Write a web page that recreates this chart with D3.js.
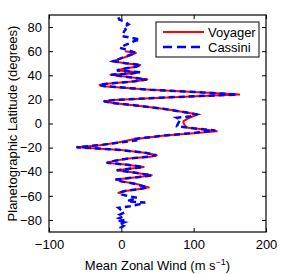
<!DOCTYPE html>
<html>
<head>
<meta charset="utf-8">
<script src="https://cdn.jsdelivr.net/npm/d3@7"></script>
<style>
body { margin: 0; background: #fff; }
text { font-family: "Liberation Sans", Arial, sans-serif; }
</style>
</head>
<body>
<div id="chartHolder"></div>
<script>
// latitude (deg) and wind (m/s)
const voyagerLat = [60, 58.5, 56, 54, 51.7, 50, 48.5, 47, 45, 44, 42.5, 41.5, 40.5, 38.5, 36.5, 35, 33, 32, 31, 28, 25.5, 24, 23, 21, 19.5, 18.5, 17, 15, 12, 9, 7.5, 5, 2, 0.5, -2, -3.6, -5, -6.5, -8, -10, -13, -16, -18, -19.6, -20.5, -22, -24.5, -26.3, -27.5, -29, -31, -32.6, -34, -36, -37, -38.7, -40, -43, -44, -46.5, -48, -50, -53, -54, -56, -57.5, -58];
const voyagerU   = [5, 20, 10, 0, -12, 5, 26, 20, 0, -5, 25, 15, -15, 10, 36, 20, -20, -30, -25, 40, 120, 163, 120, 40, -10, -24, -12, 20, 60, 92, 105, 95, 86, 86, 88, 92, 115, 132, 100, 60, 17, -6, -30, -61, -40, 0, 35, 49, 40, 10, -10, -20, 5, 31, 20, -6, 10, 42, 30, -7, 0, 20, 38, 30, 5, -4, 0];

const cassiniLat = [88, 86.3, 84, 82.2, 80, 78, 76.5, 74, 72.5, 71, 69.7, 68.5, 67, 65, 62.8, 61, 58.7, 56, 54, 51.7, 50, 48.5, 47, 45, 44, 42.5, 41.5, 40.5, 38.5, 36.5, 35, 33, 32, 31, 28, 25.5, 24, 23, 21, 19.5, 18.5, 17, 15, 12, 9, 7.5, 6, 4.7, 3.3, 1.5, -0.5, -2.2, -4, -5.8, -7, -8, -10, -12, -13, -14, -16, -18, -19.6, -20.5, -22, -24.5, -26.3, -27.5, -29, -31, -32.6, -34, -36, -37, -38.7, -40, -43, -44, -46.5, -48, -50, -53, -54, -56, -57.5, -59, -60.5, -61.7, -63, -64.5, -65.6, -67, -68.6, -70, -72, -74, -75.5, -77, -78.5, -80, -81, -82, -83.5, -85, -86.5, -88, -89.5];
const cassiniU   = [-4, -3, 6, 10, 3, 6, 4, 2, 1, 14, 26, 18, 14, 5, -2, 8, 20, 8, -1, -11, 6, 27, 20, -2, -6, 26, 14, -14, 9, 35, 18, -20, -31, -24, 40, 120, 160, 118, 38, -10, -24, -12, 20, 60, 92, 104, 96, 77, 82, 80, 78, 77, 100, 130, 110, 98, 60, 30, 17, 22, -6, -30, -62, -40, 0, 35, 48, 38, 10, -10, -20, 5, 30, 20, -6, 10, 42, 30, -8, 0, 18, 36, 28, 5, -3, 1, 12, 22, 15, 8, 33, 25, 12, -4, 0, 4, -2, 3, -3, 5, -4, 4, -3, 3, -1, 0, 0];

const xTicks = [-100, 0, 100, 200];
const yTicks = [-80, -60, -40, -20, 0, 20, 40, 60, 80];

const width = 281, height = 274;
const margin = {left: 49, right: 15, top: 15, bottom: 42};

const svg = d3.select("#chartHolder").append("svg")
  .attr("width", width)
  .attr("height", height);

const xScale = d3.scaleLinear().domain([-100, 200]).range([margin.left, width - margin.right]);
const yScale = d3.scaleLinear().domain([-90, 90]).range([height - margin.bottom, margin.top]);

const plot = svg.append("g");
plot.append("defs").append("clipPath").attr("id", "clip")
  .append("rect")
  .attr("x", margin.left).attr("y", margin.top)
  .attr("width", width - margin.left - margin.right)
  .attr("height", height - margin.top - margin.bottom);

const line = d3.line()
  .x(d => xScale(d[1]))
  .y(d => yScale(d[0]));

plot.append("path")
  .datum(voyagerLat.map((v, i) => [v, voyagerU[i]]))
  .attr("clip-path", "url(#clip)")
  .attr("d", line)
  .attr("fill", "none")
  .attr("stroke", "#ff0000")
  .attr("stroke-width", 2)
  .attr("stroke-linejoin", "round");

plot.append("path")
  .datum(cassiniLat.map((v, i) => [v, cassiniU[i]]))
  .attr("clip-path", "url(#clip)")
  .attr("d", line)
  .attr("fill", "none")
  .attr("stroke", "#0000ff")
  .attr("stroke-width", 2.5)
  .attr("stroke-dasharray", "6,4");

// axes, MATLAB style box with inner ticks
const tickLen = 4;
const axisFmt = d => d < 0 ? "\u2212" + Math.abs(d) : d;

const xAxis = d3.axisBottom(xScale).tickValues(xTicks).tickSizeInner(-tickLen).tickSizeOuter(0).tickPadding(8).tickFormat(axisFmt);
svg.append("g").attr("transform", `translate(0,${height - margin.bottom})`).call(xAxis)
  .call(g => g.selectAll("text").style("font-size", "13px").attr("fill", "#000"));
svg.append("g").attr("transform", `translate(0,${margin.top})`)
  .call(d3.axisTop(xScale).tickValues(xTicks).tickSizeInner(-tickLen).tickSizeOuter(0).tickFormat(""));

const yAxis = d3.axisLeft(yScale).tickValues(yTicks).tickSizeInner(-tickLen).tickSizeOuter(0).tickPadding(7).tickFormat(axisFmt);
svg.append("g").attr("transform", `translate(${margin.left},0)`).call(yAxis)
  .call(g => g.selectAll("text").style("font-size", "13px").attr("fill", "#000"));
svg.append("g").attr("transform", `translate(${width - margin.right},0)`)
  .call(d3.axisRight(yScale).tickValues(yTicks).tickSizeInner(-tickLen).tickSizeOuter(0).tickFormat(""));

svg.selectAll(".domain").remove();
svg.append("rect")
  .attr("x", margin.left).attr("y", margin.top)
  .attr("width", width - margin.left - margin.right)
  .attr("height", height - margin.top - margin.bottom)
  .attr("fill", "none").attr("stroke", "#000").attr("stroke-width", 1.2);

// axis labels
svg.append("text")
  .attr("x", (margin.left + width - margin.right) / 2)
  .attr("y", 270)
  .attr("text-anchor", "middle")
  .style("font-size", "13px")
  .html('Mean Zonal Wind (m s<tspan dy="-5" font-size="9px">\u22121</tspan><tspan dy="5">)</tspan>');

svg.append("text")
  .attr("transform", "rotate(-90)")
  .attr("x", -(margin.top + height - margin.bottom) / 2)
  .attr("y", 17)
  .attr("text-anchor", "middle")
  .style("font-size", "13px")
  .text("Planetographic Latitude (degrees)");

// legend
const legend = svg.append("g");
legend.append("rect")
  .attr("x", 156).attr("y", 22).attr("width", 103).attr("height", 35)
  .attr("fill", "#fff").attr("stroke", "#000").attr("stroke-width", 1);
const legendItems = [["Voyager", "#ff0000", null, 2], ["Cassini", "#0000ff", "9,5", 2.5]];
legendItems.forEach((it, i) => {
  const y = 32 + i * 15;
  legend.append("line")
    .attr("x1", 163).attr("x2", 204).attr("y1", y).attr("y2", y)
    .attr("stroke", it[1]).attr("stroke-width", it[3])
    .attr("stroke-dasharray", it[2]);
  legend.append("text")
    .attr("x", 208).attr("y", y + 4.5)
    .style("font-size", "13px")
    .text(it[0]);
});
</script>
</body>
</html>
